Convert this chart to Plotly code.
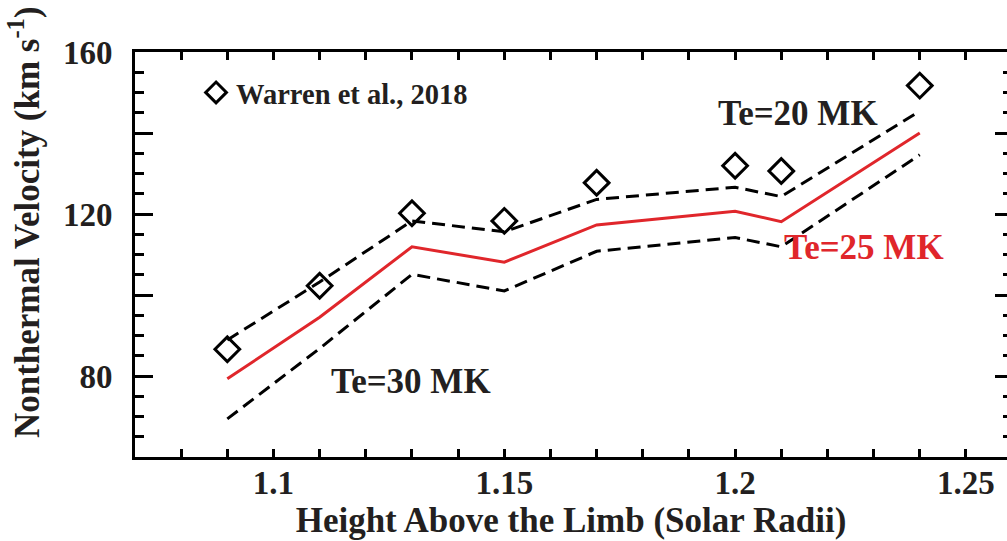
import plotly.graph_objects as go

# Data
heights = [1.09, 1.11, 1.13, 1.15, 1.17, 1.20, 1.21, 1.24]
warren_obs = [86.6, 102.3, 120.2, 118.3, 127.7, 131.9, 130.6, 151.7]
te20 = [88.9, 103.2, 118.3, 115.6, 123.6, 126.6, 124.3, 145.4]
te25 = [79.3, 94.5, 111.9, 108.1, 117.3, 120.7, 118.1, 140.0]
te30 = [69.4, 86.8, 105.1, 101.0, 110.8, 114.2, 111.9, 134.6]

x_ticks = [1.10, 1.15, 1.20, 1.25]
x_ticklabels = ["1.1", "1.15", "1.2", "1.25"]
y_label_ticks = [80, 120, 160]
y_ticklabels = ["80", "120", "160"]
y_major_ticks = [60, 80, 100, 120, 140, 160]

TXT = "#231f20"
RED = "#e0262b"
FONT = "Liberation Serif"

fig = go.Figure()

fig.add_trace(go.Scatter(x=heights, y=te20, mode="lines", showlegend=False,
                         line=dict(color="black", width=3, dash="13px,7px")))
fig.add_trace(go.Scatter(x=heights, y=te30, mode="lines", showlegend=False,
                         line=dict(color="black", width=3, dash="13px,7px")))
fig.add_trace(go.Scatter(x=heights, y=te25, mode="lines", showlegend=False,
                         line=dict(color=RED, width=3)))
fig.add_trace(go.Scatter(x=heights, y=warren_obs, mode="markers",
                         name="Warren et al., 2018",
                         marker=dict(symbol="diamond-open", size=19,
                                     color="black", line=dict(width=3, color="black"))))
# invisible traces carrying the extra tick sets
fig.add_trace(go.Scatter(x=heights, y=te25, yaxis="y2", mode="lines",
                         showlegend=False, hoverinfo="skip",
                         line=dict(color="rgba(0,0,0,0)")))
fig.add_trace(go.Scatter(x=heights, y=te25, yaxis="y3", mode="lines",
                         showlegend=False, hoverinfo="skip",
                         line=dict(color="rgba(0,0,0,0)")))

labels = [
    ("Te=20 MK", 1.2137, 144.7, TXT),
    ("Te=25 MK", 1.2280, 111.8, RED),
    ("Te=30 MK", 1.1297, 78.6, TXT),
]
for text, xx, yy, col in labels:
    fig.add_annotation(x=xx, y=yy, text=text, showarrow=False,
                       font=dict(family=FONT, size=35, color=col, weight="bold"))

# y-axis title (placed as rotated text, shifted up as in the reference)
fig.add_annotation(xref="paper", yref="paper", x=0, y=0.58, xshift=-111,
                   text="Nonthermal Velocity (km s<sup>-1</sup>)", textangle=-90,
                   showarrow=False, xanchor="center", yanchor="middle",
                   font=dict(family=FONT, size=35, color=TXT, weight="bold"))

axis_font = dict(family=FONT, size=33, color=TXT, weight="bold")

fig.update_layout(
    width=1007, height=541,
    margin=dict(l=135, r=0, t=52, b=84),
    paper_bgcolor="white", plot_bgcolor="white",
    showlegend=True,
    legend=dict(x=0.07, y=0.899, xanchor="left", yanchor="middle",
                bgcolor="rgba(0,0,0,0)", borderwidth=0,
                font=dict(family=FONT, size=28.5, color=TXT, weight="bold"),
                itemsizing="trace"),
    xaxis=dict(range=[1.07, 1.2589], showgrid=False, zeroline=False,
               showline=True, linecolor="black", linewidth=3, mirror="allticks",
               ticks="inside", ticklen=8, tickwidth=3, tickcolor="black",
               tickvals=x_ticks, ticktext=x_ticklabels,
               tickfont=axis_font, ticklabelstandoff=-6,
               minor=dict(dtick=0.01, tick0=1.0, ticks="inside", ticklen=5,
                          tickwidth=3, tickcolor="black", showgrid=False),
               title=dict(text="Height Above the Limb (Solar Radii)",
                          font=dict(family=FONT, size=35, color=TXT, weight="bold"),
                          standoff=4)),
    yaxis=dict(range=[60, 160], showgrid=False, zeroline=False,
               showline=True, linecolor="black", linewidth=3, mirror=False,
               ticks="inside", ticklen=18, tickwidth=3, tickcolor="black",
               tickvals=y_label_ticks, ticktext=y_ticklabels,
               tickfont=axis_font, ticklabelstandoff=13,
               minor=dict(dtick=5, tick0=0, ticks="inside", ticklen=9,
                          tickwidth=3, tickcolor="black", showgrid=False)),
    yaxis2=dict(range=[60, 160], overlaying="y", side="right", anchor="x",
                showgrid=False, zeroline=False, showline=False,
                ticks="inside", ticklen=12, tickwidth=3, tickcolor="black",
                tickvals=y_major_ticks, showticklabels=False,
                minor=dict(dtick=5, tick0=0, ticks="inside", ticklen=4,
                           tickwidth=3, tickcolor="black", showgrid=False)),
    yaxis3=dict(range=[60, 160], overlaying="y", side="left", anchor="x",
                showgrid=False, zeroline=False, showline=False,
                ticks="inside", ticklen=18, tickwidth=3, tickcolor="black",
                tickvals=y_major_ticks, showticklabels=False),
)

fig.write_html("out.html")
